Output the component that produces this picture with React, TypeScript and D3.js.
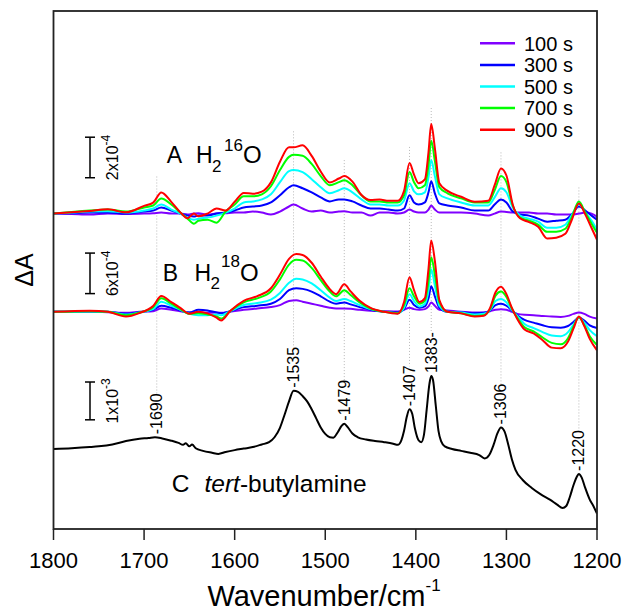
import React from "react";
import * as d3 from "d3";

// ---------- data ----------
const WN_A = [1800,1780,1760,1740,1720,1700,1690,1681,1670,1660,1652,1645,1640,1630,1620,1610,1600,1590,1580,1570,1560,1550,1540,1535,1525,1515,1505,1495,1485,1479,1470,1460,1450,1440,1430,1420,1413,1407,1402,1397,1390,1386,1383,1379,1374,1365,1350,1335,1320,1313,1306,1300,1293,1285,1275,1265,1255,1245,1235,1228,1220,1213,1206,1200];
// trace A (H2 16O), ΔA in units of 1e-4
const A_100 = [0,-0.02,-0.05,0,-0.02,0,0.02,0.05,0,0,-0.05,0,0.02,-0.05,0,0.02,0.05,0.05,0.1,0.05,-0.05,0.1,0.35,0.45,0.25,0.1,0.15,0.05,0.1,0.12,0.05,0.05,-0.1,0.05,0.05,0,0.05,0.2,0.1,0.05,0.05,0.2,0.4,0.2,0.05,0.05,0.05,0,-0.1,0,0.1,0.08,0.05,0.05,0.05,0,0,-0.05,-0.05,-0.05,0,0.05,0,-0.15];
const A_300 = [0,0.02,0.05,0.05,0,0.1,0.15,0.3,0.15,0,-0.1,-0.15,-0.1,-0.1,0,0.05,0.15,0.3,0.35,0.4,0.55,0.9,1.3,1.4,1.25,1.05,0.8,0.6,0.7,0.7,0.6,0.4,0.25,0.25,0.2,0.15,0.25,0.9,0.55,0.45,0.55,1.05,1.6,1,0.5,0.4,0.3,0.15,0.15,0.45,0.7,0.55,0.1,-0.05,-0.1,-0.25,-0.4,-0.35,-0.3,-0.05,0.35,0.15,-0.1,-0.3];
const A_500 = [0,0.05,0.1,0.12,0.05,0.15,0.25,0.45,0.2,0,-0.2,-0.3,-0.25,-0.2,-0.1,0.05,0.25,0.55,0.6,0.7,0.95,1.55,2.1,2.15,2.05,1.7,1.3,1,1.15,1.25,1.05,0.7,0.45,0.45,0.4,0.4,0.65,1.5,1.1,0.95,1.05,1.8,2.65,1.85,0.95,0.75,0.55,0.4,0.4,0.8,1.25,1.05,0.3,-0.1,-0.25,-0.4,-0.7,-0.7,-0.55,-0.1,0.45,0.05,-0.35,-0.8];
const A_700 = [0,0.08,0.15,0.2,0.1,0.3,0.4,0.75,0.45,0.05,-0.25,-0.5,-0.35,-0.3,-0.45,0.1,0.45,0.85,0.85,0.95,1.35,2.15,2.8,2.9,2.85,2.45,1.85,1.4,1.55,1.65,1.4,0.9,0.6,0.6,0.55,0.55,0.9,2.05,1.55,1.25,1.4,2.4,3.6,2.6,1.3,1,0.75,0.55,0.55,1.15,1.85,1.55,0.4,-0.2,-0.35,-0.55,-0.9,-0.9,-0.75,-0.2,0.6,0.05,-0.5,-0.95];
const A_900 = [0,0.06,0.13,0.21,0.06,0.38,0.54,1.04,0.58,0.06,-0.23,0,-0.13,0,0.25,0.15,0.58,1.02,0.98,1.08,1.54,2.56,3.27,3.27,3.37,2.85,2.08,1.54,1.73,1.85,1.58,0.92,0.67,0.69,0.63,0.63,1.12,2.5,1.92,1.5,1.69,3.04,4.42,3.23,1.5,1.12,0.83,0.58,0.63,1.4,2.23,1.88,0.44,-0.23,-0.42,-0.65,-1.23,-1.19,-1,-0.33,0.5,-0.04,-0.71,-1.29];

const WN_B = [1800,1760,1740,1720,1705,1690,1681,1670,1660,1650,1640,1630,1620,1615,1605,1590,1575,1560,1550,1540,1532,1525,1515,1505,1495,1488,1479,1472,1462,1450,1435,1420,1413,1407,1402,1396,1390,1386,1383,1379,1374,1365,1350,1335,1325,1318,1312,1306,1300,1294,1288,1280,1270,1260,1250,1240,1232,1226,1220,1214,1208,1200];
// trace B (H2 18O), ΔA in units of 1e-4
const B_100 = [0,0,-0.05,-0.15,0,0.1,0.5,0.3,0.1,-0.1,-0.1,-0.15,-0.1,-0.15,0,0.3,0.5,0.7,1,1.6,1.7,1.5,1.2,0.9,0.6,0.5,0.5,0.45,0.3,0.15,0.1,0.05,0.3,0.6,0.4,0.3,0.4,0.8,1.4,0.9,0.3,0.2,0,-0.1,-0.1,0.1,0.3,0.4,0.3,0,-0.3,-0.45,-0.5,-0.6,-0.7,-0.75,-0.6,-0.3,-0.1,-0.3,-0.7,-1];
const B_300 = [0,0.05,0,-0.3,-0.05,0.3,0.9,0.6,0.2,-0.1,0.3,0.2,-0.1,-0.2,0.1,0.7,0.9,1.2,1.9,3.2,3.5,3.4,3,2.3,1.5,1.2,1.4,1.1,0.7,0.3,0,-0.1,0.4,1.8,1,0.6,0.8,2,3.8,2.3,0.6,0,-0.05,-0.2,-0.15,0.2,1,1.2,0.9,0.2,-0.5,-1.2,-1.6,-2,-2.3,-2.35,-2.1,-1.5,-0.85,-1.3,-2,-2.4];
const B_500 = [0,0.05,0,-0.4,-0.1,0.4,1.5,0.9,0.3,-0.3,-0.5,-0.5,-0.4,-0.5,0.1,1,1.3,1.8,2.8,4.3,4.9,4.8,4.2,3.2,2.1,1.6,1.9,1.6,1,0.4,0,-0.2,0.6,2.6,1.6,0.8,1.2,3.2,6.3,3.9,0.9,0,-0.1,-0.4,-0.3,0.3,1.6,1.9,1.4,0.3,-0.6,-1.8,-2.4,-3,-3.5,-3.6,-3,-1.9,-0.85,-1.6,-2.7,-3.6];
const B_700 = [0,0.1,0,-0.5,-0.1,0.7,2,1.2,0.4,-0.3,-0.2,-0.4,-0.7,-1,0.1,1.4,2,3,4.8,7,7.7,7.6,6.5,4.7,3,2.3,3.2,2.5,1.4,0.5,0,-0.2,1,3.5,2.3,1.2,1.7,4.6,8.1,5.5,1.4,0,-0.2,-0.6,-0.5,0.4,2.4,3,2.2,0.5,-0.9,-2.3,-2.9,-3.8,-4.6,-4.8,-3.9,-2.2,-0.8,-2,-3.6,-4.9];
const B_900 = [0,0.17,0,-0.7,-0.17,0.87,2.33,1.45,0.58,-0.29,0,-0.23,-0.87,-1.28,0.12,1.63,2.33,3.49,5.52,7.85,8.55,8.43,7.27,5.23,3.37,2.62,4.07,3.02,1.63,0.58,0,-0.29,1.45,5.12,3.2,1.45,2.03,6.4,10.58,7.56,1.74,0,-0.23,-0.7,-0.58,0.58,2.9,3.72,2.62,0.58,-1.05,-2.62,-3.2,-4.2,-5.3,-5.4,-4.4,-2.5,-0.7,-2.1,-4,-5.7];

const WN_C = [1800,1780,1760,1750,1735,1720,1705,1695,1688,1680,1670,1662,1657,1654,1650,1647,1643,1635,1625,1618,1610,1600,1590,1580,1570,1562,1556,1550,1545,1540,1535,1530,1525,1520,1515,1510,1505,1500,1495,1491,1486,1482,1479,1475,1470,1464,1455,1445,1435,1425,1420,1416,1413,1410,1407,1404,1401,1397,1394,1391,1388,1385,1383,1381,1378,1375,1372,1368,1360,1350,1340,1330,1324,1319,1314,1310,1306,1302,1298,1294,1290,1282,1272,1262,1252,1244,1238,1234,1230,1226,1222,1220,1217,1213,1208,1204,1200];
// trace C (tert-butylamine), absorbance in units of 1e-3
const C_TBA = [0,0.02,0.05,0.07,0.12,0.21,0.27,0.29,0.31,0.28,0.22,0.16,0.11,0.15,0.07,0.12,0.02,-0.05,-0.1,-0.13,-0.08,-0.03,0.01,0.05,0.12,0.18,0.31,0.56,0.9,1.26,1.54,1.51,1.4,1.26,1.05,0.81,0.57,0.4,0.31,0.3,0.45,0.61,0.67,0.57,0.41,0.31,0.25,0.21,0.18,0.14,0.11,0.23,0.48,0.85,1.05,0.93,0.54,0.23,0.18,0.38,1.05,1.72,1.93,1.82,1.15,0.48,0.2,0.07,0,-0.05,-0.1,-0.16,-0.25,-0.16,0.12,0.41,0.57,0.46,0.12,-0.27,-0.55,-0.82,-1.03,-1.2,-1.34,-1.47,-1.56,-1.51,-1.27,-0.96,-0.72,-0.66,-0.75,-1.03,-1.34,-1.51,-1.71];

const TIMES = ["100 s", "300 s", "500 s", "700 s", "900 s"];
const COLORS = ["#8000ff", "#0000ff", "#00ffff", "#00ff00", "#ff0000"];
const X_TICKS = [1800, 1700, 1600, 1500, 1400, 1300, 1200];
const PEAK_LABELS = ["-1690", "-1535", "-1479", "-1407", "1383-", "-1306", "-1220"];
const PEAK_POS = [1686, 1535, 1479, 1407, 1383, 1306, 1220];

// ---------- layout ----------
const W = 622, H = 611;
const L = 53.5, R = 597, T = 11, B = 529;
const FONT = "'Liberation Sans', Arial, Helvetica, sans-serif";

// display units: 1 unit = 1e-4 of trace A
const OFF_A = 15.57, SC_A = 1;
const OFF_B = 10.72, SC_B = 1 / 3;
const OFF_C = 3.95, SC_C = 1.866;

export default function App() {
  const x = d3.scaleLinear().domain([1800, 1200]).range([L, R]);
  const y = d3.scaleLinear().domain([0, 25.57]).range([B, T]);

  const mkLine = (off: number, sc: number) =>
    d3.line<[number, number]>()
      .x((d) => x(d[0]))
      .y((d) => y(off + sc * d[1]))
      .curve(d3.curveMonotoneX);

  const lineA = mkLine(OFF_A, SC_A);
  const lineB = mkLine(OFF_B, SC_B);
  const lineC = mkLine(OFF_C, SC_C);

  const seriesA = [A_100, A_300, A_500, A_700, A_900];
  const seriesB = [B_100, B_300, B_500, B_700, B_900];
  const zip = (wn: number[], v: number[]) => wn.map((w, i) => [w, v[i]] as [number, number]);

  const cAt = (wn: number) => {
    const i = WN_C.indexOf(WN_C.reduce((a, b) => (Math.abs(b - wn) < Math.abs(a - wn) ? b : a)));
    return C_TBA[i];
  };
  const redMax = (wn: number) => {
    let m = -Infinity;
    WN_A.forEach((w, i) => { if (Math.abs(w - wn) <= 6) m = Math.max(m, A_900[i]); });
    return m;
  };

  const bars = [
    { lo: 17.34, len: 2 * SC_A, main: "2x10", sup: "-4" },
    { lo: 11.62, len: 6 * SC_B, main: "6x10", sup: "-4" },
    { lo: 5.39, len: 1 * SC_C, main: "1x10", sup: "-3" },
  ];

  const PFS = 16;

  return (
    <svg width={W} height={H} style={{ display: "block", position: "absolute", left: 0, top: 0 }} fontFamily={FONT}>
      <rect x={0} y={0} width={W} height={H} fill="#fff" />
      <defs>
        <clipPath id="plot">
          <rect x={L} y={T} width={R - L} height={B - T} />
        </clipPath>
      </defs>

      {/* guide lines */}
      {PEAK_POS.map((p, i) => {
        const labelBottom = y(OFF_C + SC_C * cAt(i === 0 ? 1688 : p)) - 3;
        const top = y(OFF_A + redMax(p)) - 16;
        return (
          <line key={"g" + i} x1={x(p)} x2={x(p)} y1={top} y2={labelBottom - 40}
            stroke="#b8b8b8" strokeWidth={1} strokeDasharray="1 2" />
        );
      })}

      <g clipPath="url(#plot)" fill="none" strokeLinejoin="round">
        {seriesA.map((s, i) => (
          <path key={"a" + i} d={lineA(zip(WN_A, s)) || ""} stroke={COLORS[i]} strokeWidth={2} />
        ))}
        {seriesB.map((s, i) => (
          <path key={"b" + i} d={lineB(zip(WN_B, s)) || ""} stroke={COLORS[i]} strokeWidth={2} />
        ))}
        <path d={lineC(zip(WN_C, C_TBA)) || ""} stroke="#000" strokeWidth={2} />
      </g>

      {/* peak labels */}
      {PEAK_POS.map((p, i) => {
        const yy = y(OFF_C + SC_C * cAt(i === 0 ? 1688 : p)) - 3;
        const xx = x(p) + 5.5;
        return (
          <text key={"pl" + i} x={xx} y={yy} fontSize={PFS} transform={`rotate(-90 ${xx} ${yy})`} fill="#000">
            {PEAK_LABELS[i]}
          </text>
        );
      })}

      {/* scale bars */}
      {bars.map((b, i) => {
        const y1 = y(b.lo), y2 = y(b.lo + b.len);
        const cy = (y1 + y2) / 2;
        const tx = 118;
        return (
          <g key={"sb" + i}>
            <line x1={90} x2={90} y1={y1} y2={y2} stroke="#000" strokeWidth={1.5} />
            <line x1={85} x2={95} y1={y1} y2={y1} stroke="#000" strokeWidth={1.5} />
            <line x1={85} x2={95} y1={y2} y2={y2} stroke="#000" strokeWidth={1.5} />
            <text x={tx} y={cy} fontSize={16} textAnchor="middle" transform={`rotate(-90 ${tx} ${cy})`}>
              {b.main}
              <tspan fontSize={12} dy={-8}>{b.sup}</tspan>
            </text>
          </g>
        );
      })}

      {/* trace labels */}
      <text fontSize={23} fill="#000">
        <tspan x={166.7} y={163}>A</tspan>
        <tspan x={196} y={163}>H</tspan>
        <tspan x={212} y={171.5} fontSize={17}>2</tspan>
        <tspan x={224} y={151} fontSize={17}>16</tspan>
        <tspan x={243} y={163} fontSize={24}>O</tspan>
      </text>
      <text fontSize={23} fill="#000">
        <tspan x={162.7} y={280.6}>B</tspan>
        <tspan x={194.4} y={280.6}>H</tspan>
        <tspan x={210.5} y={289} fontSize={17}>2</tspan>
        <tspan x={221} y={267} fontSize={17}>18</tspan>
        <tspan x={240} y={280.6} fontSize={24}>O</tspan>
      </text>
      <text fontSize={24.5} fill="#000">
        <tspan x={171.7} y={491.8}>C</tspan>
        <tspan x={204.5} y={491.8} fontStyle="italic">tert</tspan>
        <tspan>-butylamine</tspan>
      </text>

      {/* legend */}
      {TIMES.map((t, i) => {
        const ly = 43.3 + i * 21.6;
        return (
          <g key={"lg" + i}>
            <line x1={480} x2={515} y1={ly} y2={ly} stroke={COLORS[i]} strokeWidth={2.5} />
            <text x={524} y={ly + 7.3} fontSize={20} fill="#000">{t}</text>
          </g>
        );
      })}

      {/* frame and axes */}
      <rect x={L} y={T} width={R - L} height={B - T} fill="none" stroke="#222" strokeWidth={1.8} />
      {X_TICKS.map((t) => (
        <g key={"t" + t}>
          <line x1={x(t)} x2={x(t)} y1={B} y2={B + 11} stroke="#222" strokeWidth={1.5} />
          <text x={x(t)} y={568} fontSize={22} textAnchor="middle" fill="#000">{t}</text>
        </g>
      ))}
      <text x={324} y={606} fontSize={29} textAnchor="middle" fill="#000">
        Wavenumber/cm<tspan fontSize={17} dy={-15}>-1</tspan>
      </text>
      <text x={33} y={270} fontSize={25} textAnchor="middle" transform="rotate(-90 33 270)" fill="#000">
        ΔA
      </text>
    </svg>
  );
}
